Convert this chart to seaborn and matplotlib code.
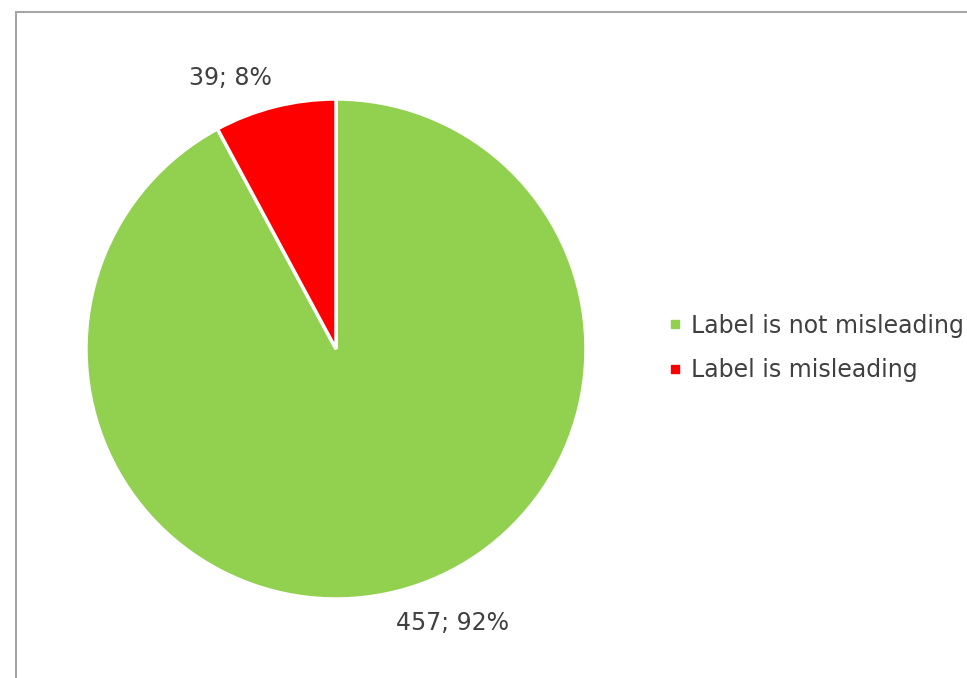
import matplotlib
matplotlib.use("Agg")
import matplotlib.pyplot as plt
import seaborn as sns
from matplotlib.lines import Line2D

categories = ["Label is not misleading", "Label is misleading"]
counts = [457, 39]
percents = [92, 8]
colors = ["#92D050", "#FF0000"]

sns.set_theme(style="white")
plt.rcParams['font.family'] = ['DejaVu Sans']

W, H = 967, 678
fig = plt.figure(figsize=(W / 100, H / 100), dpi=100)
fig.patch.set_facecolor("white")

cx, cy, r = 336, 349, 250
ax = fig.add_axes([(cx - r) / W, (H - cy - r) / H, 2 * r / W, 2 * r / H])
wedges, _ = ax.pie(counts, colors=colors, startangle=90, counterclock=False,
                   radius=1, wedgeprops=dict(edgecolor="white", linewidth=2.5))
ax.set_xlim(-1, 1)
ax.set_ylim(-1, 1)
ax.set_aspect("equal")
ax.axis("off")

txt_color = "#404040"
label_pos = [((453 - cx) / r, (cy - 623) / r), ((230 - cx) / r, (cy - 78) / r)]
for (x, y), c, p in zip(label_pos, counts, percents):
    ax.text(x, y, f"{c}; {p}%", ha="center", va="center", fontsize=17,
            color=txt_color, clip_on=False)

# frame (top and left visible)
ytop = 1 - 11.5 / H
fig.add_artist(Line2D([15.5 / W, 15.5 / W], [0, ytop], transform=fig.transFigure,
                      color="#A6A6A6", lw=1.5, solid_capstyle="butt"))
fig.add_artist(Line2D([15 / W, 1], [ytop, ytop], transform=fig.transFigure,
                      color="#A6A6A6", lw=1.5, solid_capstyle="butt"))

handles = [Line2D([0], [0], marker="s", linestyle="none", markersize=6,
                  markerfacecolor=col, markeredgecolor=col) for col in colors]
leg = fig.legend(handles, categories, loc="center left",
                 bbox_to_anchor=(660 / W, 1 - 348 / H), frameon=False,
                 fontsize=17, handlelength=0.5, handletextpad=0.4,
                 labelspacing=0.88, borderaxespad=0)
for t in leg.get_texts():
    t.set_color(txt_color)

fig.savefig("out.png", dpi=100, facecolor="white")
